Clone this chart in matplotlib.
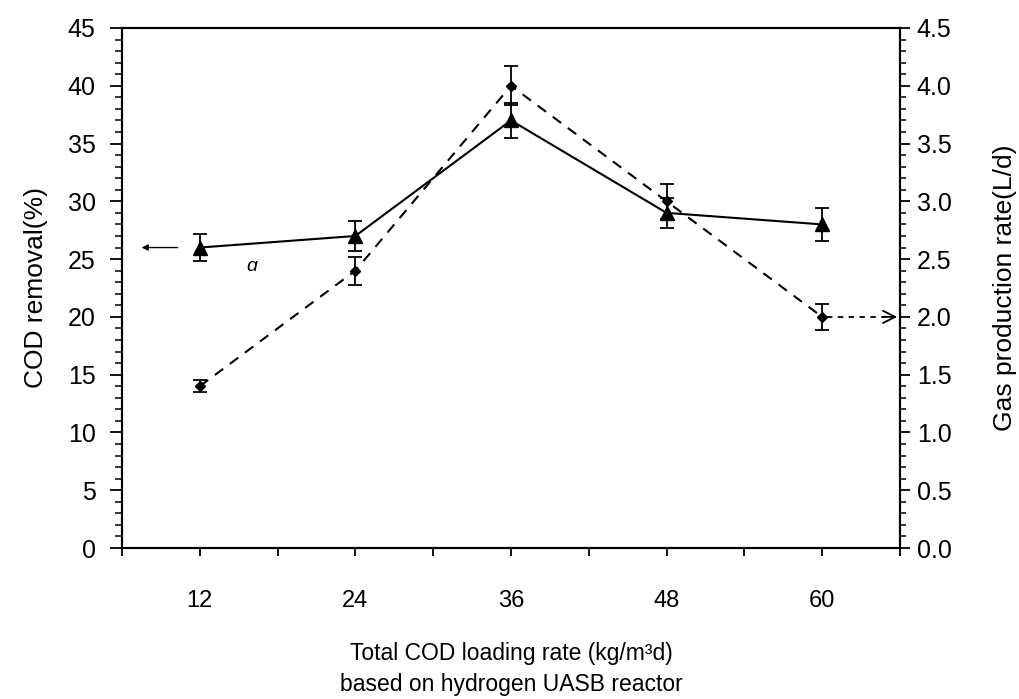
import numpy as np
import matplotlib
matplotlib.use('Agg')
import matplotlib.pyplot as plt
from matplotlib.ticker import MultipleLocator, FixedLocator

# data
loading = [12, 24, 36, 48, 60]
cod_removal = [26.0, 27.0, 37.0, 29.0, 28.0]
cod_err = [1.2, 1.3, 1.5, 1.3, 1.4]
gas_rate = [1.4, 2.4, 4.0, 3.0, 2.0]
gas_err = [0.05, 0.12, 0.17, 0.15, 0.11]

x_ticks = [6, 12, 18, 24, 30, 36, 42, 48, 54, 60, 66]
x_labels = ['', '12', '', '24', '', '36', '', '48', '', '60', '']
gas_ticks = [0, 0.5, 1.0, 1.5, 2.0, 2.5, 3.0, 3.5, 4.0, 4.5]

plt.rcParams['font.family'] = ['Liberation Sans', 'DejaVu Sans']

fig = plt.figure(figsize=(10.19, 6.99), dpi=100)
ax = fig.add_axes([0.1197, 0.216, 0.7635, 0.744])
ax2 = ax.twinx()

# COD removal - solid line, triangles
ax.errorbar(loading, cod_removal, yerr=cod_err, color='black', lw=1.5,
            marker='^', ms=10, capsize=5, elinewidth=1.3, capthick=1.3, zorder=3)
# gas production - dashed line, small diamonds
ax2.errorbar(loading, gas_rate, yerr=gas_err, color='black', lw=1.5, ls='--',
             dashes=(5, 4), marker='D', ms=5.5, capsize=5, elinewidth=1.3, capthick=1.3)

ax.set_xlim(6, 66)
ax.set_ylim(0, 45)
ax2.set_ylim(0, 4.5)

ax.xaxis.set_major_locator(FixedLocator(x_ticks))
ax.set_xticklabels(x_labels, fontsize=17)
ax.tick_params(axis='x', direction='out', length=6, width=1.3, pad=24)

ax.yaxis.set_major_locator(MultipleLocator(5))
ax.yaxis.set_minor_locator(MultipleLocator(1))
ax.tick_params(axis='y', which='major', direction='out', length=9, width=1.3, labelsize=18, pad=10)
ax.tick_params(axis='y', which='minor', direction='out', length=5, width=1.1)

ax2.yaxis.set_major_locator(FixedLocator(gas_ticks))
ax2.yaxis.set_minor_locator(MultipleLocator(0.1))
ax2.set_yticklabels(['%.1f' % v for v in gas_ticks])
ax2.tick_params(axis='y', which='major', direction='out', length=7, width=1.3, labelsize=18, pad=5)
ax2.tick_params(axis='y', which='minor', direction='out', length=4, width=1.1)

for a in (ax, ax2):
    for s in a.spines.values():
        s.set_linewidth(1.5)

ax.set_ylabel('COD removal(%)', fontsize=19, labelpad=14)
ax2.set_ylabel('Gas production rate(L/d)', fontsize=19, labelpad=30)
ax.set_xlabel('Total COD loading rate (kg/m\u00b3d)\nbased on hydrogen UASB reactor',
              fontsize=16.5, labelpad=22, linespacing=1.45)

# arrows pointing to the axis each series belongs to
ax.annotate('', xy=(7.3, cod_removal[0]), xytext=(10.5, cod_removal[0]),
            arrowprops=dict(arrowstyle='-|>', color='black', lw=1.0, mutation_scale=9))
ax2.plot([loading[-1] + 0.4, 65.6], [gas_rate[-1], gas_rate[-1]], color='black',
         lw=1.3, ls='--', dashes=(3, 3))
ax2.annotate('', xy=(66, gas_rate[-1]), xytext=(64.5, gas_rate[-1]),
             arrowprops=dict(arrowstyle='->', color='black', lw=1.3, mutation_scale=22),
             annotation_clip=False)

# scan smudge
ax.text(16.0, 24.4, '\u0251', fontsize=14, style='italic', ha='center', va='center')

fig.savefig('out.png', dpi=100)
